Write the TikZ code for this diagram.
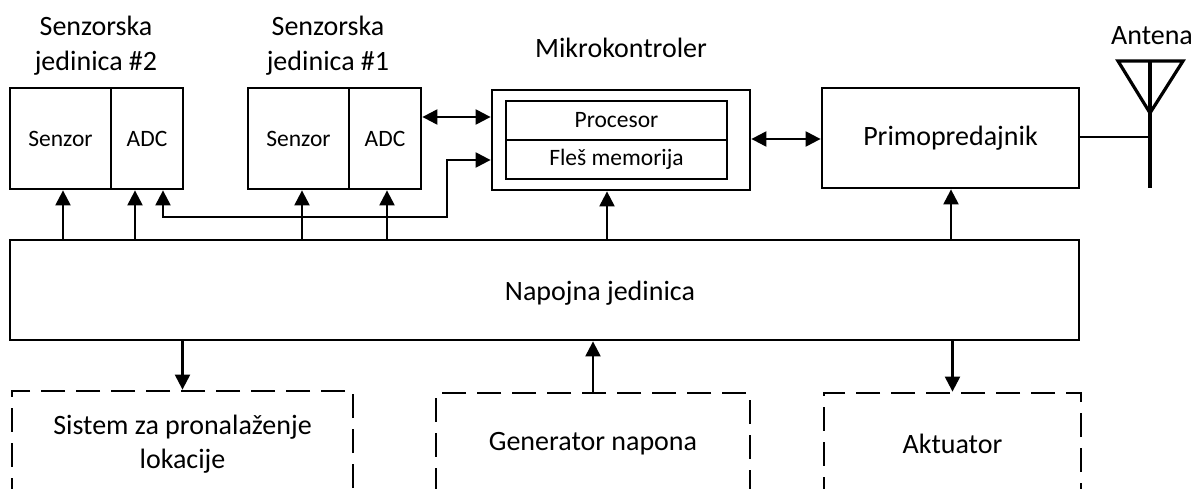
\documentclass[tikz,border=0pt]{standalone}
\usepackage{fontspec}
\setmainfont{Carlito}
\usetikzlibrary{arrows.meta,calc}
\begin{document}
\begin{tikzpicture}[x=1pt,y=-1pt,
  box/.style={draw, line width=2.8pt, inner sep=0pt, font=\fontsize{23.5}{28}\selectfont},
  bigbox/.style={draw, line width=2.8pt, inner sep=0pt, font=\fontsize{28}{34}\selectfont},
  dashbox/.style={draw, line width=2.8pt, dash pattern=on 24pt off 11pt, inner sep=0pt, align=center, font=\fontsize{28}{34}\selectfont},
  lbl/.style={align=center, inner sep=0pt, font=\fontsize{28}{35}\selectfont},
  arr/.style={line width=2.2pt, -{Triangle[length=15pt,width=15pt]}},
  biarr/.style={line width=2.2pt, {Triangle[length=15pt,width=15pt]}-{Triangle[length=15pt,width=15pt]}},
]
\useasboundingbox (0,0) rectangle (1202,489);
\clip (0,0) rectangle (1202,489);

% sensor units
\node[box, minimum width=101pt, minimum height=101pt] (s2sen) at (60.5,138.5) {Senzor};
\node[box, minimum width=72pt, minimum height=101pt] (s2adc) at (147,138.5) {ADC};
\node[box, minimum width=101pt, minimum height=101pt] (s1sen) at (298.5,138.5) {Senzor};
\node[box, minimum width=72pt, minimum height=101pt] (s1adc) at (385,138.5) {ADC};
\node[lbl] (s2lbl) at (96,46) {Senzorska\\jedinica \#2};
\node[lbl] (s1lbl) at (328,46) {Senzorska\\jedinica \#1};

% microcontroller
\node[box, minimum width=258pt, minimum height=100pt] (mcu) at (621,140) {};
\node[box, minimum width=221pt, minimum height=39pt] (proc) at (616.5,120.5) {Procesor};
\node[box, minimum width=221pt, minimum height=39pt] (flash) at (616.5,159.5) {Fleš memorija};
\node[lbl] (mculbl) at (621,48) {Mikrokontroler};

% transceiver
\node[bigbox, minimum width=257pt, minimum height=100pt] (primo) at (950.5,138) {Primopredajnik};

% antenna
\coordinate (ant) at (1150,137);
\draw[line width=3.2pt, line join=miter] (1118,61) -- (1183,61) -- (1150,113) -- cycle;
\draw[line width=3.6pt] (1150,61) -- (1150,188);
\draw[line width=2pt] (primo.east |- ant) -- (ant);
\node[lbl] (antlbl) at (1152,36) {Antena};

% power unit
\node[bigbox, minimum width=1069pt, minimum height=100pt] (napojna) at (544.5,290) {};
\node[lbl] (napojnatxt) at (600,293) {Napojna jedinica};

% dashed boxes
\node[dashbox, minimum width=341pt, minimum height=106pt] (loc) at (182.5,444) {Sistem za pronalaženje\\lokacije};
\node[dashbox, minimum width=314pt, minimum height=102pt] (gen) at (593,444) {Generator napona};
\node[dashbox, minimum width=257pt, minimum height=102pt] (akt) at (952.5,444) {Aktuator};

% power arrows up
\draw[arr] (napojna.north -| 63,0) -- (s2sen.south -| 63,0);
\draw[arr] (napojna.north -| 135,0) -- (s2adc.south -| 135,0);
\draw[arr] (napojna.north -| 302,0) -- (s1sen.south -| 302,0);
\draw[arr] (napojna.north -| 387,0) -- (s1adc.south -| 387,0);
\draw[arr] (napojna.north -| 607,0) -- (mcu.south -| 607,0);
\draw[arr] (napojna.north -| 951,0) -- (primo.south -| 951,0);

% data connections
\draw[biarr] (s2adc.south -| 163,0) -- (163,217) -- (447,217) -- (447,160) -- (mcu.west |- 0,160);
\draw[biarr] (s1adc.east |- 0,117) -- (mcu.west |- 0,117);
\draw[biarr] (mcu.east |- 0,139) -- (primo.west |- 0,139);

% bottom arrows
\draw[arr] (napojna.south -| loc.north) -- (loc.north);
\draw[arr] (gen.north) -- (napojna.south -| gen.north);
\draw[arr] (napojna.south -| akt.north) -- (akt.north);
\end{tikzpicture}
\end{document}
